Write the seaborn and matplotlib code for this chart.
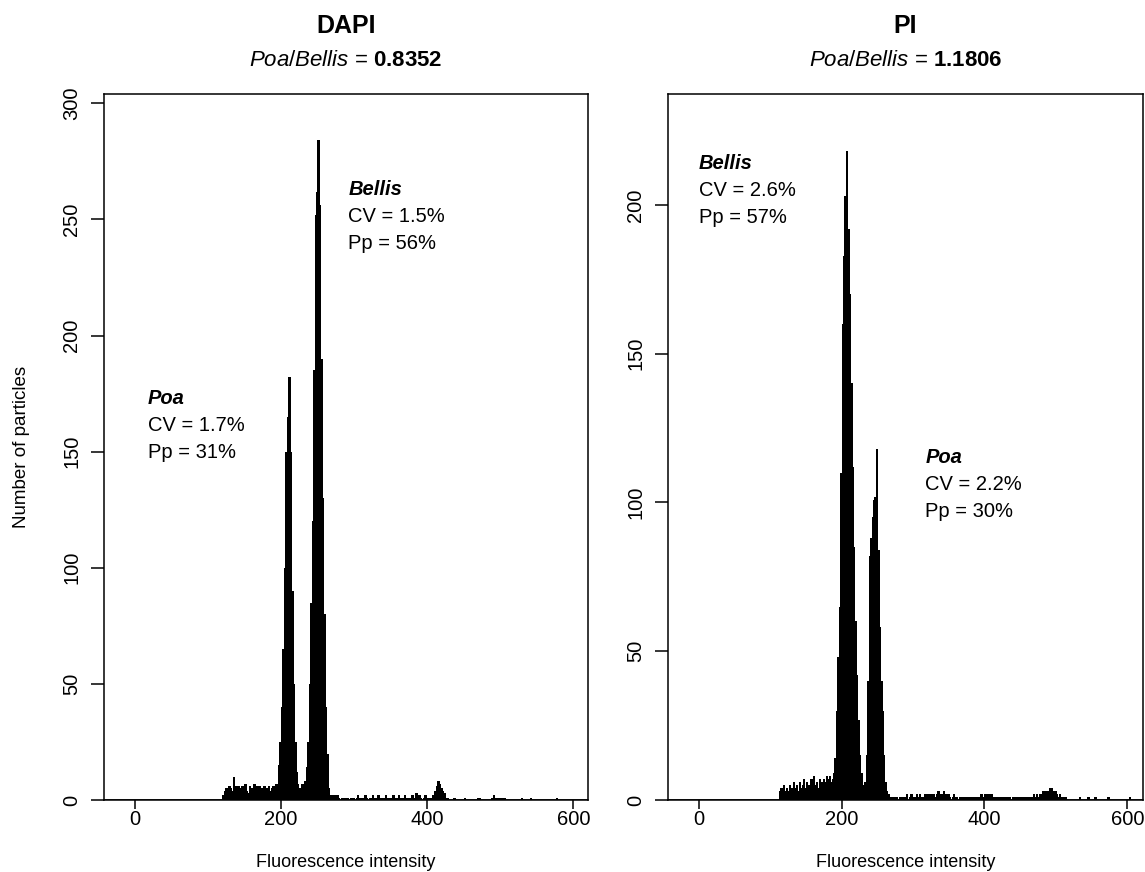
import numpy as np
import pandas as pd
import matplotlib
matplotlib.use("Agg")
import matplotlib.pyplot as plt
import matplotlib.transforms as mtrans
import seaborn as sns

# ---------------- data ----------------
BIN_WIDTH = 2

dapi_start = 120
dapi_counts = [
    2, 4, 5, 4, 6, 5, 4, 10, 6, 5,          # 120-138
    6, 5, 4, 6, 5, 7, 4, 3, 6, 5,           # 140-158
    4, 7, 5, 6, 3, 6, 5, 4, 6, 5,           # 160-178
    5, 6, 4, 5, 6, 5, 7, 6, 15, 25,         # 180-198
    40, 65, 100, 150, 165, 182, 150, 90, 50, 25,   # 200-218
    12, 7, 5, 4, 7, 5, 8, 14, 25, 50,       # 220-238
    85, 120, 185, 252, 262, 284, 256, 190, 130, 80,  # 240-258
    40, 20, 5, 2, 1, 2, 2, 1, 2, 1,         # 260-278
    0, 1, 1, 0, 1, 1, 0, 1, 1, 1,           # 280-298
    0, 1, 2, 1, 0, 1, 0, 2, 1, 0,           # 300-318
    1, 1, 2, 1, 1, 0, 2, 1, 1, 0,           # 320-338
    1, 2, 1, 0, 1, 1, 2, 1, 0, 1,           # 340-358
    2, 1, 0, 1, 2, 1, 0, 1, 1, 2,           # 360-378
    0, 1, 3, 0, 2, 1, 0, 1, 2, 1,           # 380-398
    1, 0, 1, 2, 2, 4, 6, 8, 7, 5,           # 400-418
    4, 3, 1, 1, 0, 0, 0, 0, 1, 0,           # 420-438
    0, 0, 0, 0, 0, 1, 0, 0, 0, 0,           # 440-458
    0, 0, 0, 0, 1, 1, 0, 0, 0, 0,           # 460-478
    0, 0, 0, 0, 1, 2, 1, 1, 1, 0,           # 480-498
    1, 1, 1, 0, 0, 0, 0, 0, 0, 0,           # 500-518
    0, 0, 0, 0, 1, 0, 0, 0, 0, 0,           # 520-538
    1, 0, 0, 0, 0, 0, 0, 0, 0, 0,           # 540-558
    0, 0, 0, 0, 0, 0, 0, 0, 1, 0,           # 560-578
]

pi_start = 112
pi_counts = [
    3, 4, 2, 5, 3, 4, 3, 5, 4, 3,           # 112-130
    6, 4, 5, 3, 6, 4, 5, 7, 4, 6,           # 132-150
    5, 4, 7, 5, 8, 5, 6, 4, 7, 6,           # 152-170
    5, 7, 6, 8, 7, 8, 6, 7, 9, 14,          # 172-190
    30, 48, 65, 110, 160, 183, 203, 218, 192, 170,  # 192-210
    140, 112, 85, 60, 42, 27, 15, 9, 5, 3,  # 212-230
    6, 15, 40, 82, 88, 95, 101, 102, 118, 84,  # 232-250
    58, 40, 30, 15, 6, 3, 2, 1, 1, 1,       # 252-270
    1, 1, 1, 0, 1, 1, 1, 1, 1, 2,           # 272-290
    0, 1, 2, 1, 0, 1, 2, 1, 2, 1,           # 292-310
    0, 1, 2, 1, 2, 1, 2, 1, 2, 1,           # 312-330
    2, 3, 1, 2, 1, 3, 2, 1, 2, 1,           # 332-350
    0, 1, 2, 1, 1, 0, 1, 1, 0, 1,           # 352-370
    1, 1, 1, 0, 1, 1, 1, 1, 1, 1,           # 372-390
    1, 2, 1, 1, 2, 1, 2, 1, 2, 1,           # 392-410
    1, 1, 0, 1, 1, 1, 0, 1, 1, 1,           # 412-430
    1, 1, 0, 1, 1, 1, 1, 1, 1, 1,           # 432-450
    1, 1, 1, 1, 1, 1, 1, 1, 2, 1,           # 452-470
    2, 1, 2, 2, 3, 2, 3, 2, 3, 4,           # 472-490
    4, 3, 2, 3, 2, 1, 2, 1, 1, 0,           # 492-510
    1, 0, 0, 0, 0, 0, 0, 0, 0, 0,           # 512-530
    1, 0, 0, 0, 0, 0, 1, 0, 0, 0,           # 532-550
    0, 1, 0, 0, 0, 0, 0, 0, 0, 0,           # 552-570
    1, 0, 0, 0, 0, 0, 0, 0, 0, 0,           # 572-590
    0, 0, 0, 0, 0, 1, 0, 0, 0, 0,           # 592-610
]

panel_titles = ["DAPI", "PI"]
ratios = ["0.8352", "1.1806"]
x_ticks = [0, 200, 400, 600]
dapi_yticks = [0, 50, 100, 150, 200, 250, 300]
pi_yticks = [0, 50, 100, 150, 200]

# annotations: (species, CV, Pp, x, y)
dapi_notes = [("Bellis", "1.5%", "56%", 292, 263), ("Poa", "1.7%", "31%", 18, 173)]
pi_notes = [("Bellis", "2.6%", "57%", 0, 214), ("Poa", "2.2%", "30%", 317, 115)]

# ---------------- style ----------------
sns.set_theme(style="ticks")
plt.rcParams["font.family"] = ["Liberation Sans", "DejaVu Sans"]
plt.rcParams["mathtext.fontset"] = "custom"
plt.rcParams["mathtext.rm"] = "Liberation Sans"
plt.rcParams["mathtext.it"] = "Liberation Sans:italic"
plt.rcParams["mathtext.bf"] = "Liberation Sans:bold"

W, H = 1145, 872
fig = plt.figure(figsize=(W / 100, H / 100), dpi=100)
fig.patch.set_facecolor("white")


def px_axes(l, t, r, b):
    return fig.add_axes([l / W, (H - b) / H, (r - l) / W, (b - t) / H])


ax1 = px_axes(104, 94, 588, 800)
ax2 = px_axes(668, 94, 1143, 800)

panels = [
    (ax1, dapi_start, dapi_counts, (0, 304), dapi_yticks, dapi_notes, (-42, 620), 2.323),
    (ax2, pi_start, pi_counts, (0, 237.3), pi_yticks, pi_notes, (-43, 622), 2.975),
]

for i, (ax, start, counts, ylim, yticks, notes, xlim, ppu) in enumerate(panels):
    counts = np.asarray(counts, dtype=float)
    lo = start
    hi = start + BIN_WIDTH * len(counts)
    centers = lo + BIN_WIDTH * np.arange(len(counts)) + BIN_WIDTH / 2
    df = pd.DataFrame({"x": centers, "w": counts})
    sns.histplot(data=df, x="x", weights="w", binwidth=BIN_WIDTH,
                 binrange=(lo, hi), element="bars", fill=True,
                 color="black", alpha=1, edgecolor="black", linewidth=0.5,
                 antialiased=False, ax=ax)
    ax.axhline(0, color="black", lw=1.2, zorder=3)
    ax.set_xlim(*xlim)
    ax.set_ylim(*ylim)
    ax.set_xticks(x_ticks)
    ax.set_xticklabels([str(v) for v in x_ticks])
    ax.set_yticks(yticks)
    ax.set_yticklabels([str(v) for v in yticks], rotation=90, va="center")
    ax.tick_params(axis="x", direction="out", length=6.5, width=1.1,
                   color="black", labelsize=14.5, labelcolor="black", pad=1)
    ax.tick_params(axis="y", direction="out", length=9.5, width=1.1,
                   color="black", labelsize=14.5, labelcolor="black", pad=7)
    for s in ax.spines.values():
        s.set_visible(True)
        s.set_color("black")
        s.set_linewidth(1.1)
    ax.set_facecolor("white")
    ax.grid(False)
    ax.set_xlabel("Fluorescence intensity", fontsize=13, color="black")
    ax.xaxis.set_label_coords(0.5, -0.088)
    ax.xaxis.label.set_va("center")
    if i == 0:
        ax.set_ylabel("Number of particles", fontsize=13.5, color="black")
        ax.yaxis.set_label_coords(-0.17, 0.5)
        ax.yaxis.label.set_va("center")
    else:
        ax.set_ylabel("")

    tr = mtrans.blended_transform_factory(ax.transAxes, fig.transFigure)
    ax.text(0.5, (H - 26) / H, panel_titles[i], transform=tr, ha="center",
            va="center", fontsize=18, fontweight="bold", color="black")
    ax.text(0.5, (H - 60) / H,
            r"$\mathit{Poa/Bellis}$ = $\mathbf{" + ratios[i] + "}$",
            transform=tr, ha="center", va="center", fontsize=16, color="black")

    # annotations
    step = 27 / ppu
    for name, cv, pp, x, y in notes:
        ax.text(x, y, name, fontsize=14.5, fontweight="bold", style="italic",
                ha="left", va="center", color="black")
        ax.text(x, y - step, f"CV = {cv}", fontsize=14.5, ha="left",
                va="center", color="black")
        ax.text(x, y - 2 * step, f"Pp = {pp}", fontsize=14.5, ha="left",
                va="center", color="black")

fig.savefig("out.png", dpi=100, facecolor="white")
